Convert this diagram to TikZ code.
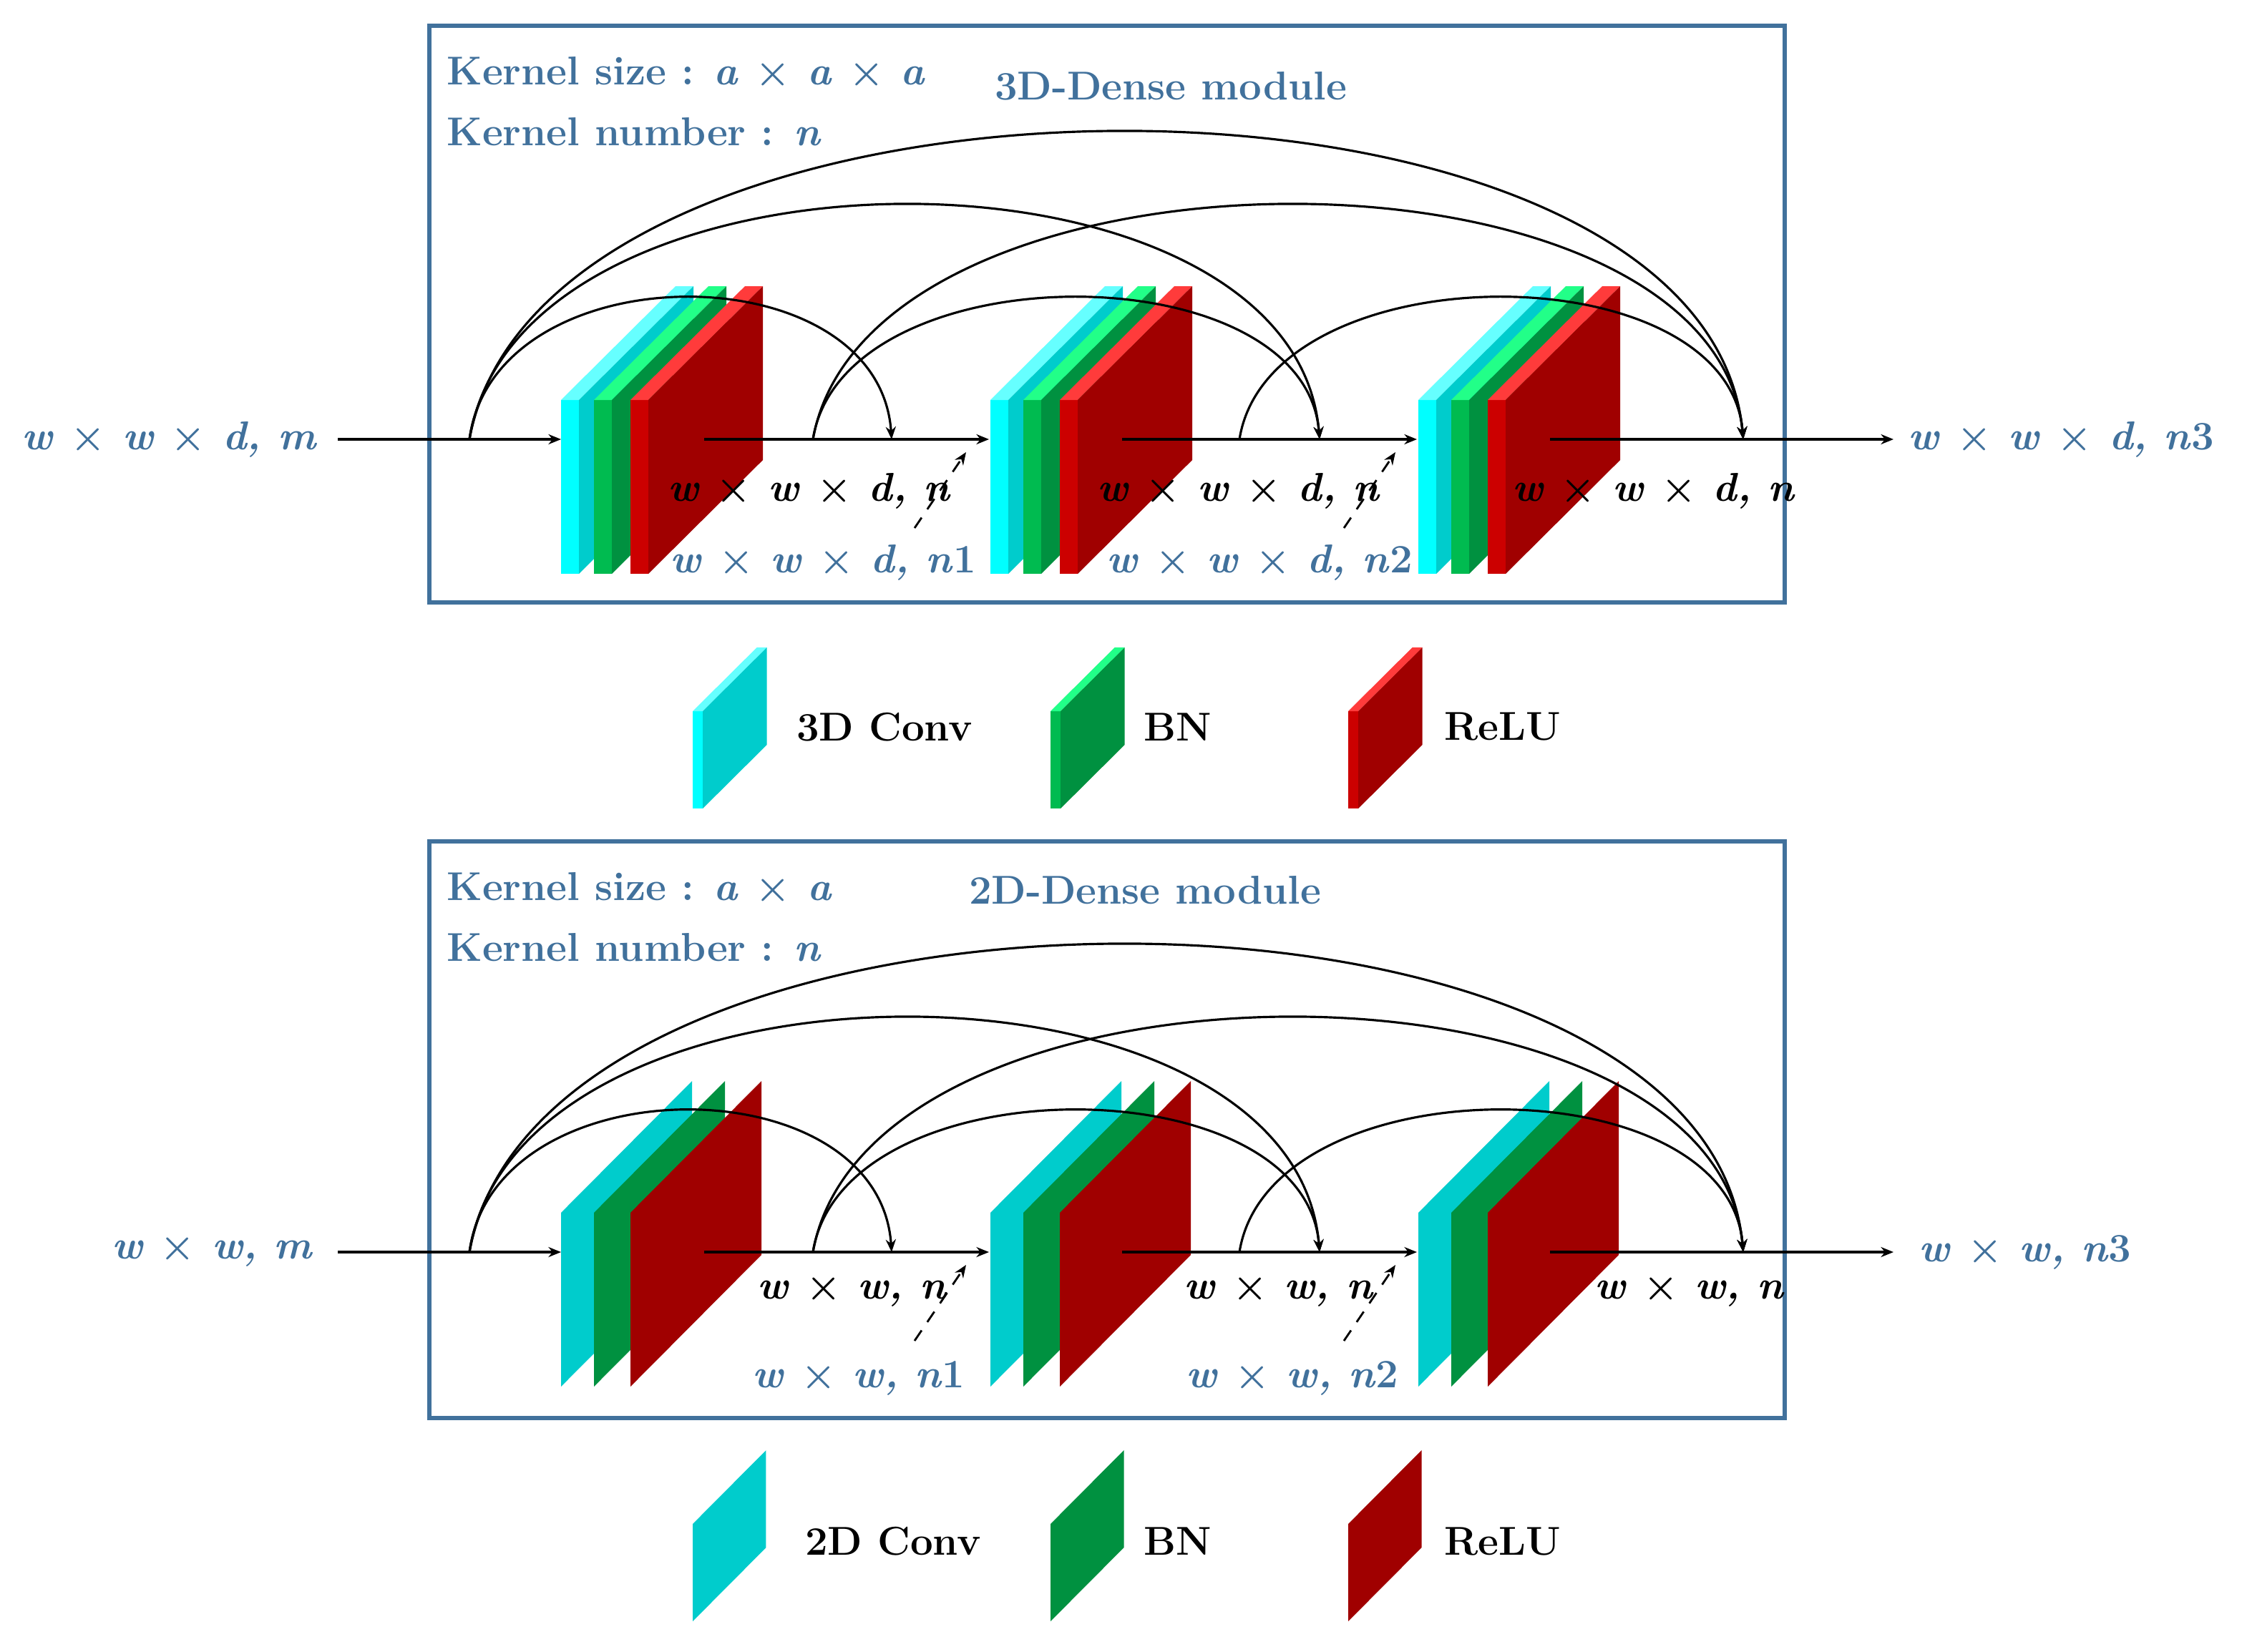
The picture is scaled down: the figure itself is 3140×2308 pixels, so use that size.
\documentclass[tikz,border=0pt]{standalone}
\usetikzlibrary{arrows.meta}
\begin{document}
\definecolor{tblue}{HTML}{41719C}
\definecolor{cyF}{HTML}{00FFFF}\definecolor{cyT}{HTML}{66FFFF}\definecolor{cyS}{HTML}{00CCCC}
\definecolor{grF}{HTML}{00BB50}\definecolor{grT}{HTML}{22FF88}\definecolor{grS}{HTML}{009140}
\definecolor{rdF}{HTML}{CC0000}\definecolor{rdT}{HTML}{FF3B3B}\definecolor{rdS}{HTML}{A00000}
\newcommand\tx{\textup{\texttimes}}
\begin{tikzpicture}[x=0.01cm,y=0.01cm,
  pics/slabT/.style n args={3}{code={
    \fill[#1] (0,0)--(25,0)--(25,-243)--(0,-243)--cycle;
    \fill[#2] (0,0)--(25,0)--(185,159)--(160,159)--cycle;
    \fill[#3] (25,0)--(185,159)--(185,-84)--(25,-243)--cycle;}},
  pics/slabD/.style={code={\fill[#1] (0,0)--(183,184)--(183,-59)--(0,-243)--cycle;}},
  conn/.style={-{Stealth[length=5pt,width=4pt]},line width=0.9pt},
  dconn/.style={-{Stealth[length=5pt,width=4pt]},line width=0.8pt,dash pattern=on 5pt off 4pt},
  big/.style={font=\fontsize{16}{19}\selectfont\bfseries},
  lab/.style={font=\fontsize{16}{19}\selectfont\bfseries\itshape,inner sep=0},
  frame/.style={draw=tblue,line width=1.7pt}]
\useasboundingbox (0,0) rectangle (3140,-2308);
% ---------- modules ----------
\foreach \L/\fr/\ks/\inl/\outl/\bl/\blo/\bbo/\ink in
 {614/36/{a \tx{} a \tx{} a}/{w \tx{} w \tx{} d, m}/{w \tx{} w \tx{} d, n\textup{3}}/{w \tx{} w \tx{} d, n}/72/172/0,
  1750/1176/{a \tx{} a}/{w \tx{} w, m}/{w \tx{} w, n\textup{3}}/{w \tx{} w, n}/56/176/1}{
  \draw[frame] (600,-\fr) rectangle (2494,-\fr-806);
  \node[big,text=tblue,anchor=west] at (612,-\fr-64) {Kernel size : \textit{\ks}};
  \node[big,text=tblue,anchor=west] at (612,-\fr-148) {Kernel number : \textit{n}};
  \ifnum\ink=0
    \node[big,text=tblue] at (1636,-\fr-84) {3D-Dense module};
  \else
    \node[big,text=tblue] at (1600,-\fr-68) {2D-Dense module};
  \fi
  % blocks
  \foreach \g in {784,1384,1982}{
    \ifnum\ink=0
      \pic at (\g,-\L+55) {slabT={cyF}{cyT}{cyS}};
      \pic at (\g+46,-\L+55) {slabT={grF}{grT}{grS}};
      \pic at (\g+97,-\L+55) {slabT={rdF}{rdT}{rdS}};
    \else
      \pic at (\g,-\L+55) {slabD=cyS};
      \pic at (\g+46,-\L+55) {slabD=grS};
      \pic at (\g+97,-\L+55) {slabD=rdS};
    \fi
  }
  \coordinate (i0) at (472,-\L);
  \coordinate (b1) at (784,-\L);
  \coordinate (o1) at (984,-\L);
  \coordinate (b2) at (1382,-\L);
  \coordinate (o2) at (1568,-\L);
  \coordinate (b3) at (1980,-\L);
  \coordinate (o3) at (2166,-\L);
  \coordinate (oo) at (2646,-\L);
  \coordinate (s1) at (656,-\L);
  \coordinate (s2) at (1136,-\L);
  \coordinate (s3) at (1732,-\L);
  \coordinate (e1) at (1246,-\L);
  \coordinate (e2) at (1844,-\L);
  \coordinate (e3) at (2436,-\L);
  \draw[conn] (i0) -- (b1);
  \draw[conn] (o1) -- (b2);
  \draw[conn] (o2) -- (b3);
  \draw[conn] (o3) -- (oo);
  \draw[conn] (s1) .. controls +(35,264) and +(-18,264) .. (e1);
  \draw[conn] (s1) .. controls +(70,437) and +(-36,437) .. (e2);
  \draw[conn] (s1) .. controls +(105,573) and +(-53,573) .. (e3);
  \draw[conn] (s2) .. controls +(42,264) and +(-21,264) .. (e2);
  \draw[conn] (s2) .. controls +(78,437) and +(-39,437) .. (e3);
  \draw[conn] (s3) .. controls +(42,264) and +(-21,264) .. (e3);
  \node[lab,text=tblue] (inl) at (236+\ink*60,-\L) {\inl};
  \node[lab,text=tblue] (outl) at (2880-\ink*50,-\L) {\outl};
  \node[lab] (k1) at (1130+\ink*60,-\L-\blo) {\bl};
  \node[lab] (k2) at (1730+\ink*56,-\L-\blo) {\bl};
  \node[lab] (k3) at (2310+\ink*50,-\L-\blo) {\bl};
  \node[lab,text=tblue] (c1) at (1150+\ink*50,-\L-\bbo) {\ifnum\ink=0 w \tx{} w \tx{} d, n\textup{1}\else w \tx{} w, n\textup{1}\fi};
  \node[lab,text=tblue] (c2) at (1760+\ink*46,-\L-\bbo) {\ifnum\ink=0 w \tx{} w \tx{} d, n\textup{2}\else w \tx{} w, n\textup{2}\fi};
  \coordinate (d1a) at (1278,-\L-124);
  \coordinate (d1b) at (1350,-\L-18);
  \coordinate (d2a) at (1878,-\L-124);
  \coordinate (d2b) at (1950,-\L-18);
  \draw[dconn] (d1a) -- (d1b);
  \draw[dconn] (d2a) -- (d2b);
}
% ---------- legends ----------
\pic[scale=0.56] at (968,-994) {slabT={cyF}{cyT}{cyS}};
\pic[scale=0.56] at (1468,-994) {slabT={grF}{grT}{grS}};
\pic[scale=0.56] at (1884,-994) {slabT={rdF}{rdT}{rdS}};
\node[big] (l1) at (1236,-1016) {3D Conv};
\node[big] (l2) at (1646,-1016) {BN};
\node[big] (l3) at (2100,-1016) {ReLU};
\pic[scale=0.56] at (968,-2130) {slabD=cyS};
\pic[scale=0.56] at (1468,-2130) {slabD=grS};
\pic[scale=0.56] at (1884,-2130) {slabD=rdS};
\node[big] (m1) at (1248,-2154) {2D Conv};
\node[big] (m2) at (1646,-2154) {BN};
\node[big] (m3) at (2100,-2154) {ReLU};
\end{tikzpicture}
\end{document}
